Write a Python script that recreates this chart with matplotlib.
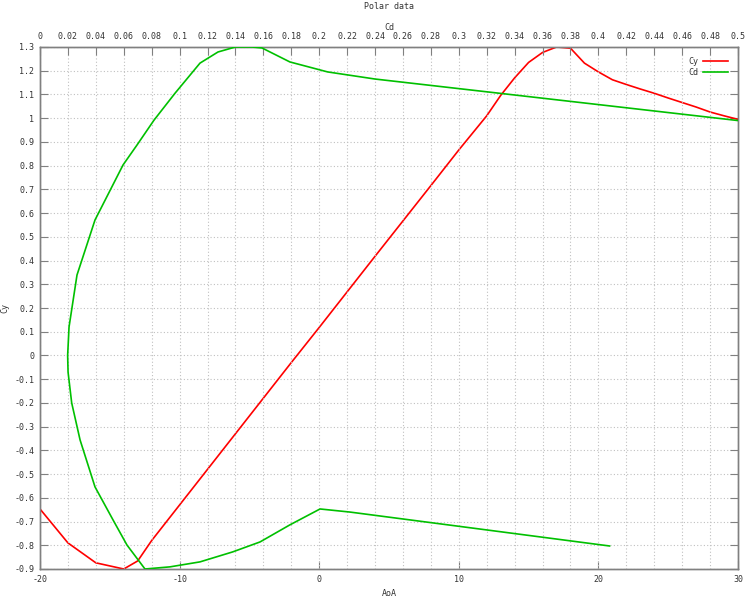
import matplotlib
matplotlib.use("Agg")
import matplotlib.pyplot as plt
from matplotlib.ticker import FormatStrFormatter, MultipleLocator

plt.rcParams['font.family'] = ['DejaVu Sans Mono']
plt.rcParams['axes.unicode_minus'] = False

# Cy vs angle of attack (bottom axis)
aoa = [-20, -18, -16, -14, -13, -12, -10, -8, -6, -4, -2, 0, 2, 4, 6, 8, 10, 12,
       13, 14, 15, 16, 17, 18, 19, 20, 21, 22, 23, 24, 25, 26, 27, 28, 29, 30]
cy = [-0.647, -0.79, -0.874, -0.9, -0.866, -0.78, -0.63, -0.48, -0.33, -0.18,
      -0.03, 0.118, 0.268, 0.418, 0.567, 0.716, 0.866, 1.01,
      1.096, 1.17, 1.235, 1.277, 1.3, 1.295, 1.232, 1.195, 1.162, 1.142,
      1.123, 1.105, 1.085, 1.066, 1.047, 1.026, 1.01, 0.995]

# Cd curve (top axis) against Cy
cd = [0.5, 0.240, 0.206, 0.179, 0.159, 0.152, 0.140, 0.1275, 0.1146, 0.0967,
      0.0817, 0.0695, 0.0595, 0.0394, 0.0265, 0.0208, 0.0198, 0.0201, 0.0227,
      0.0287, 0.0394, 0.0523, 0.0623, 0.0752, 0.0931, 0.1146, 0.138, 0.1576,
      0.179, 0.2006, 0.222, 0.408]
cy_cd = [0.99, 1.165, 1.195, 1.237, 1.296, 1.3, 1.3, 1.279, 1.232, 1.105,
         0.992, 0.887, 0.803, 0.571, 0.339, 0.12, 0.0, -0.07, -0.2,
         -0.356, -0.554, -0.693, -0.799, -0.9, -0.891, -0.87, -0.828, -0.786,
         -0.714, -0.647, -0.66, -0.803]

txt = '#333333'
edge = '#808080'
fs = 6

fig = plt.figure(figsize=(7.5, 6), dpi=100)
ax = fig.add_axes([40/750, 31/600, 698/750, 522/600])
ax2 = ax.twiny()

ax.set_xlim(-20, 30)
ax.set_ylim(-0.9, 1.3)
ax2.set_xlim(0, 0.5)

ax.xaxis.set_major_locator(MultipleLocator(10))
ax.yaxis.set_major_locator(MultipleLocator(0.1))
ax2.xaxis.set_major_locator(MultipleLocator(0.02))
ax.yaxis.set_major_formatter(FormatStrFormatter('%g'))
ax2.xaxis.set_major_formatter(FormatStrFormatter('%g'))
ax.xaxis.set_major_formatter(FormatStrFormatter('%g'))

for a in (ax, ax2):
    for s in a.spines.values():
        s.set_color(edge)
        s.set_linewidth(1.0)
    a.tick_params(direction='in', length=6, width=0.8, color=edge,
                  labelsize=fs, labelcolor=txt, pad=4)
ax.tick_params(axis='y', right=True)

ax.grid(False)
ax2.grid(False)
gridkw = dict(color='#c0c0c0', linestyle=(0, (1, 2)), linewidth=0.8, zorder=0)
ax.yaxis.grid(True, **gridkw)
ax2.xaxis.grid(True, **gridkw)
ax.set_axisbelow(True)
ax2.set_axisbelow(True)

l1, = ax.plot(aoa, cy, color='#ff0000', lw=1.2, label='Cy', zorder=3)
l2, = ax2.plot(cd, cy_cd, color='#00c000', lw=1.2, label='Cd', zorder=3)

ax.set_xlabel('AoA', fontsize=fs, color=txt, labelpad=4)
ax.set_ylabel('Cy', fontsize=fs, color=txt, labelpad=4)
ax2.set_xlabel('Cd', fontsize=fs, color=txt, labelpad=2)
fig.text(0.518, 0.997, 'Polar data', fontsize=fs, color=txt, ha='center', va='top')

ax2.legend([l1, l2], ['Cy', 'Cd'], loc='upper right', frameon=False,
           markerfirst=False, fontsize=fs, handlelength=3.0, labelspacing=0.25,
           borderaxespad=0.8, handletextpad=0.6, labelcolor=txt)

fig.savefig('out.png', dpi=100)
